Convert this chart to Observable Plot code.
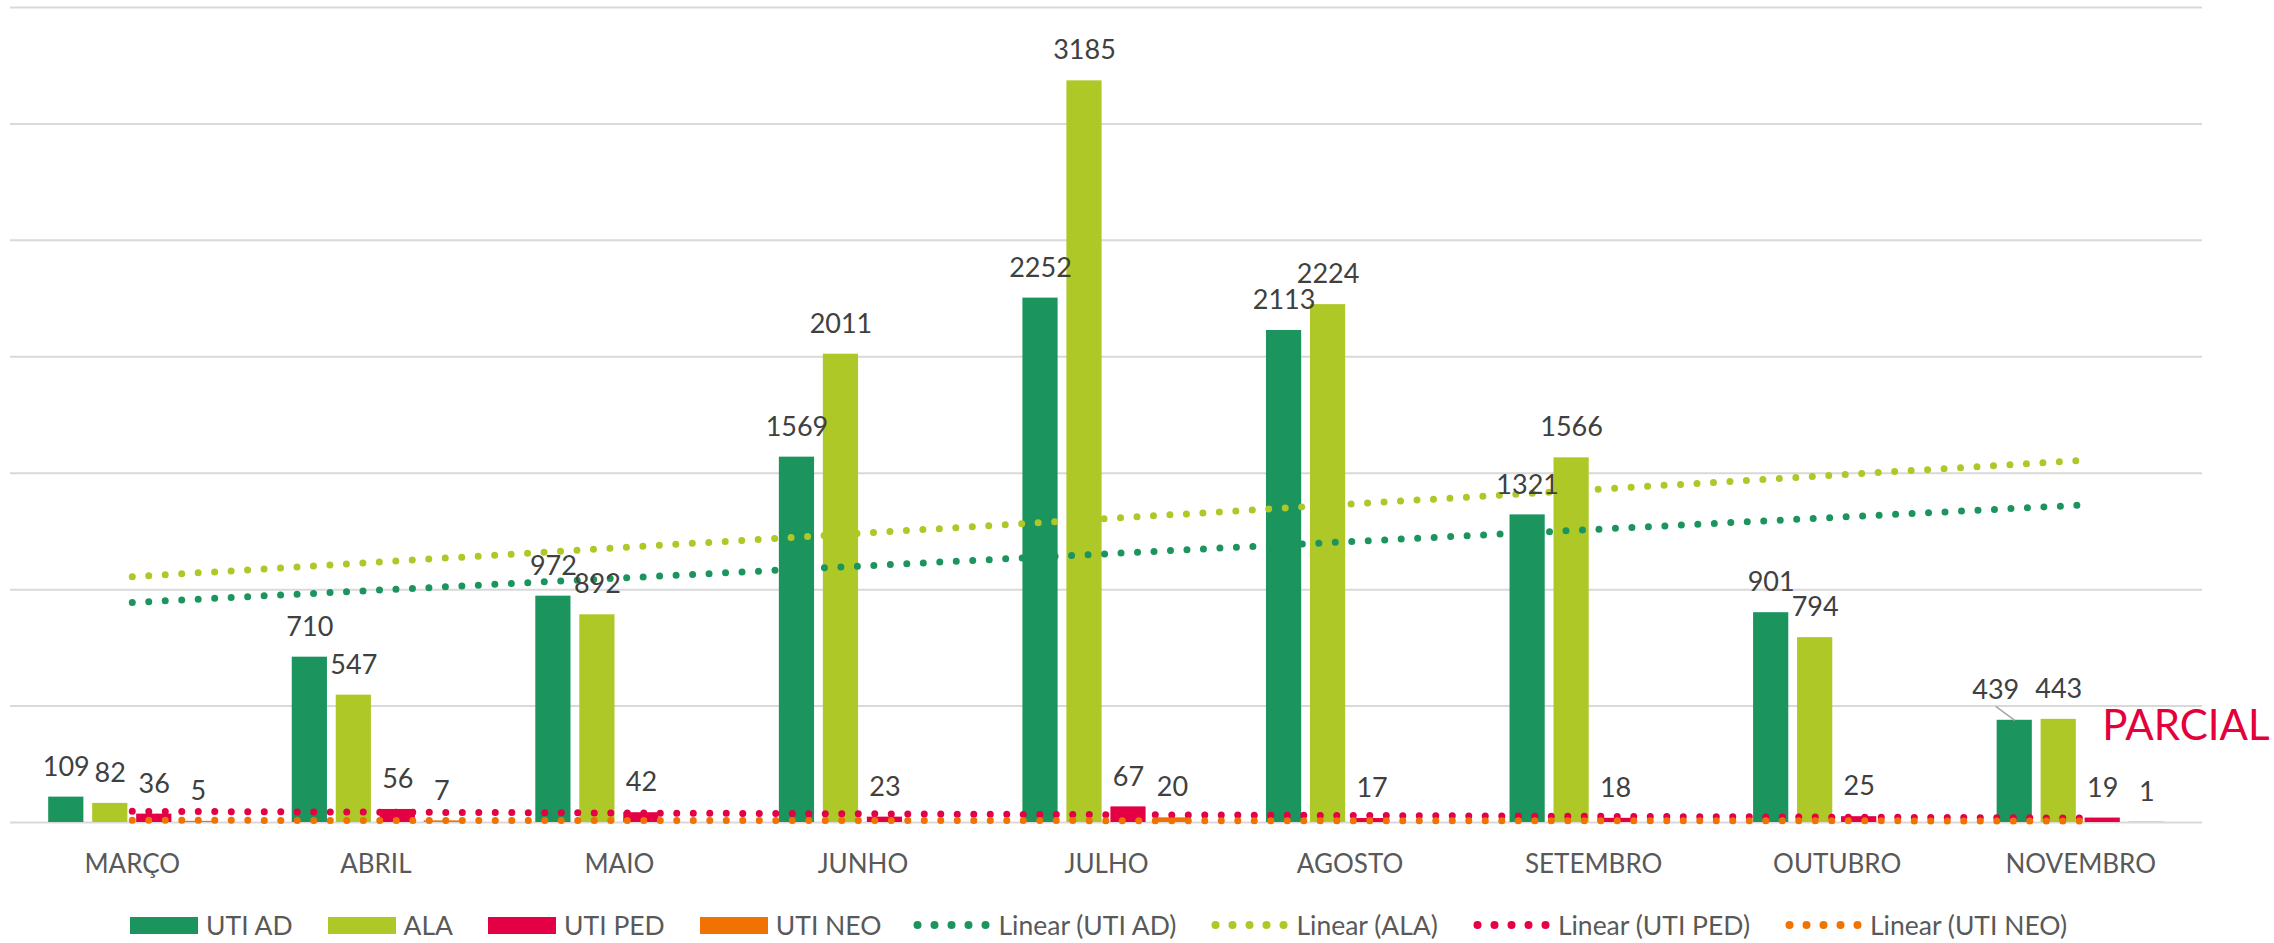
<!DOCTYPE html>
<html>
<head>
<meta charset="utf-8">
<script src="https://cdn.jsdelivr.net/npm/d3@7"></script>
<script src="https://cdn.jsdelivr.net/npm/@observablehq/plot@0.6"></script>
<style>
  html, body { margin: 0; padding: 0; background: #ffffff; }
  body { width: 2274px; height: 943px; position: relative; overflow: hidden; font-family: Lato, "Open Sans", sans-serif; }
  #chart svg { display: block; overflow: visible; }
  #legend { position: absolute; top: 910px; left: 130px; height: 30px; display: flex; align-items: center; font-size: 26.5px; color: #595959; white-space: nowrap; }
  .item { display: flex; align-items: center; margin-right: 35px; }
  .item span { line-height: 30px; }
  .sw { width: 68px; height: 17px; margin-right: 8px; }
  .dots { margin-right: 5px; display: block; }
</style>
</head>
<body>
<div id="chart"></div>
<div id="legend"></div>
<script>
// ---- data ----
const months = ["MARÇO", "ABRIL", "MAIO", "JUNHO", "JULHO", "AGOSTO", "SETEMBRO", "OUTUBRO", "NOVEMBRO"];
const series = ["UTI AD", "ALA", "UTI PED", "UTI NEO"];
const utiAd  = [109, 710, 972, 1569, 2252, 2113, 1321, 901, 439];
const ala    = [82, 547, 892, 2011, 3185, 2224, 1566, 794, 443];
const utiPed = [36, 56, 42, 23, 67, 17, 18, 25, 19];
const utiNeo = [5, 7, null, null, 20, null, null, null, 1];
const colors = ["#1b945e", "#aec828", "#e30045", "#ef7203"];
const yTicks = [0, 500, 1000, 1500, 2000, 2500, 3000, 3500];
const trendNames = ["Linear (UTI AD)", "Linear (ALA)", "Linear (UTI PED)", "Linear (UTI NEO)"];
const noteText = "PARCIAL";

// ---- layout ----
const W = 2274, H = 885, mL = 10, mR = 72, mT = 7, mB = 63;
const pxPerUnit = (W - mL - mR) / months.length;

const valuesBySeries = [utiAd, ala, utiPed, utiNeo];
const rows = [];
series.forEach((s, k) => valuesBySeries[k].forEach((v, i) => rows.push({series: s, i, value: v})));
const defined = rows.filter(d => d.value != null);

// sub-band for bars inside each month
const sub = d3.scaleBand(series, [-0.5, 0.5]).paddingInner(0.2).paddingOuter(0.868);
const bx1 = d => d.i + sub(d.series);
const bx2 = d => d.i + sub(d.series) + sub.bandwidth();
const bxc = d => d.i + sub(d.series) + sub.bandwidth() / 2;

// label with leader line (NOVEMBRO, UTI AD)
const isShifted = d => d.series === "UTI AD" && d.i === months.length - 1;
const shifted = defined.filter(isShifted);
const normal = defined.filter(d => !isShifted(d));

const unitsPerPxY = 3500 / (H - mT - mB);

const plot = Plot.plot({
  width: W, height: H,
  marginLeft: mL, marginRight: mR, marginTop: mT, marginBottom: mB,
  style: {fontFamily: "Lato, 'Open Sans', sans-serif", fontSize: "26px", color: "#595959", background: "#ffffff", overflow: "visible"},
  x: {domain: [-0.5, months.length - 0.5], label: null},
  y: {domain: [0, 3500], axis: null},
  color: {domain: series, range: colors},
  marks: [
    Plot.ruleY(yTicks, {stroke: "#d9d9d9", strokeWidth: 2}),
    Plot.axisX({ticks: d3.range(months.length), tickFormat: i => months[i], tickSize: 0, tickPadding: 32, fontSize: 26, fill: "#595959", label: null}),
    Plot.rectY(defined, {x1: bx1, x2: bx2, y1: 0, y2: "value", fill: "series"}),
    Plot.linearRegressionY(defined, {x: "i", y: "value", stroke: "series", ci: 0, strokeWidth: 7, strokeDasharray: "0 16.5", strokeLinecap: "round", strokeOpacity: 1}),
    Plot.text(normal, {x: bxc, y: "value", text: d => String(d.value), dy: -30, fontSize: 27, fill: "#404040"}),
    Plot.text(shifted, {x: bxc, y: "value", text: d => String(d.value), dy: -30, dx: -19, fontSize: 27, fill: "#404040"}),
    Plot.link(shifted, {x1: bxc, y1: "value", x2: d => bxc(d) - 19 / pxPerUnit, y2: d => d.value + 14 * unitsPerPxY, stroke: "#a6a6a6", strokeWidth: 1.5}),
    Plot.text([noteText], {x: months.length - 1 + 0.088, y: 412, text: d => d, textAnchor: "start", fontSize: 42, fill: "#e4003b"})
  ]
});
document.getElementById("chart").appendChild(plot);

// ---- legend ----
const legend = document.getElementById("legend");
series.forEach((s, k) => {
  const it = document.createElement("div");
  it.className = "item";
  it.innerHTML = `<div class="sw" style="background:${colors[k]}"></div><span>${s}</span>`;
  legend.appendChild(it);
});
trendNames.forEach((t, k) => {
  const it = document.createElement("div");
  it.className = "item";
  if (k === 0) it.style.marginLeft = "-3px";
  const circles = d3.range(5).map(j => `<circle cx="${4.5 + j * 17}" cy="9" r="4" fill="${colors[k]}"/>`).join("");
  it.innerHTML = `<svg class="dots" width="80" height="18">${circles}</svg><span>${t}</span>`;
  if (k === trendNames.length - 1) it.style.marginRight = "0";
  legend.appendChild(it);
});
</script>
</body>
</html>
